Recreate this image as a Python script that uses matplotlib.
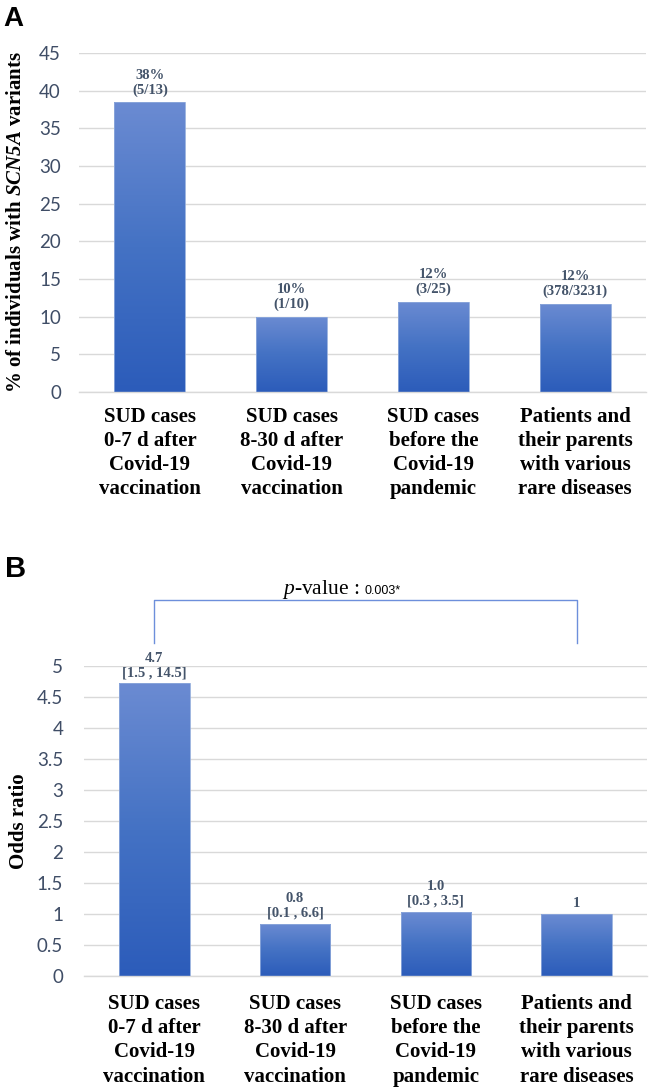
import numpy as np
import matplotlib
matplotlib.use("Agg")
import matplotlib.pyplot as plt
from matplotlib.colors import LinearSegmentedColormap
from matplotlib.ticker import FuncFormatter

plt.rcParams["mathtext.fontset"] = "custom"
plt.rcParams["mathtext.rm"] = "Liberation Serif"
plt.rcParams["mathtext.it"] = "Liberation Serif:italic"
plt.rcParams["mathtext.bf"] = "Liberation Serif:bold"
plt.rcParams["mathtext.bfit"] = "Liberation Serif:italic:bold"

# data
categories = [
    "SUD cases\n0-7 d after\nCovid-19\nvaccination",
    "SUD cases\n8-30 d after\nCovid-19\nvaccination",
    "SUD cases\nbefore the\nCovid-19\npandemic",
    "Patients and\ntheir parents\nwith various\nrare diseases",
]
pct_values = [38.46, 10.0, 12.0, 11.7]
pct_labels = ["38%\n(5/13)", "10%\n(1/10)", "12%\n(3/25)", "12%\n(378/3231)"]
or_values = [4.72, 0.84, 1.03, 1.0]
or_labels = ["4.7\n[1.5 , 14.5]", "0.8\n[0.1 , 6.6]", "1.0\n[0.3 , 3.5]", "1"]
p_value = "0.003*"

SERIF = "Liberation Serif"
TICK_FONT = "Lato"
TXT = "#44546A"
TICK_COLOR = "#3F4D66"
GRID = "#D9D9D9"
grad_cmap = LinearSegmentedColormap.from_list("bar", ["#2C5CBA", "#4472C4", "#6B8BD2"])


def draw_bars(ax, values):
    x = np.arange(len(values))
    bars = ax.bar(x, values, width=0.5, facecolor="none", edgecolor="#8EA9DB",
                  linewidth=0.6, zorder=3)
    grad = np.linspace(0, 1, 256).reshape(-1, 1)
    for b in bars:
        x0, w, h = b.get_x(), b.get_width(), b.get_height()
        im = ax.imshow(grad, extent=[x0, x0 + w, 0, h], origin="lower",
                       cmap=grad_cmap, aspect="auto", zorder=2)
        im.set_clip_path(b)
    return bars


def style_axis(ax, ymax, step, pad):
    ax.set_xlim(-0.5, 3.5)
    ax.set_ylim(0, ymax)
    ax.set_yticks(np.arange(0, ymax + step / 2, step))
    ax.yaxis.set_major_formatter(FuncFormatter(lambda v, _: f"{v:g}"))
    ax.grid(axis="y", color=GRID, linewidth=1.0, zorder=0)
    ax.set_axisbelow(True)
    for s in ["top", "right", "left"]:
        ax.spines[s].set_visible(False)
    ax.spines["bottom"].set_color(GRID)
    ax.spines["bottom"].set_linewidth(1.0)
    ax.tick_params(axis="y", length=0, pad=pad, labelsize=13.5,
                   labelcolor=TICK_COLOR)
    for t in ax.get_yticklabels():
        t.set_fontfamily(TICK_FONT)


fig = plt.figure(figsize=(6.66, 10.88), dpi=100)

# ---- panel A
axA = fig.add_axes([79 / 666, 1 - 392 / 1088, 567 / 666, 339 / 1088])
barsA = draw_bars(axA, pct_values)
style_axis(axA, 45, 5, 13)
axA.set_xticks(range(4))
axA.set_xticklabels(categories, fontfamily=SERIF, fontweight="bold",
                    fontsize=15, linespacing=1.28)
axA.tick_params(axis="x", length=0, pad=10.5)
for b, lab in zip(barsA, pct_labels):
    axA.annotate(lab, (b.get_x() + b.get_width() / 2, b.get_height()),
                 xytext=(0, 4), textcoords="offset points", ha="center",
                 va="bottom", fontfamily=SERIF, fontweight="bold", fontsize=10.5,
                 color=TXT, linespacing=1.15)
axA.set_ylabel(r"% of individuals with $\mathbfit{SCN5A}$ variants",
               fontfamily=SERIF, fontweight="bold", fontsize=15)
axA.yaxis.set_label_coords(-0.094, 0.5)
fig.text(3 / 666, 1 - 19 / 1088, "A", fontfamily="Liberation Sans",
         fontweight="bold", fontsize=20, va="center", ha="left")

# ---- panel B
axB = fig.add_axes([84 / 666, 1 - 976 / 1088, 563 / 666, 310 / 1088])
barsB = draw_bars(axB, or_values)
style_axis(axB, 5, 0.5, 15)
axB.set_xticks(range(4))
axB.set_xticklabels(categories, fontfamily=SERIF, fontweight="bold",
                    fontsize=15, linespacing=1.28)
axB.tick_params(axis="x", length=0, pad=13)
for b, lab in zip(barsB, or_labels):
    axB.annotate(lab, (b.get_x() + b.get_width() / 2, b.get_height()),
                 xytext=(0, 3), textcoords="offset points", ha="center",
                 va="bottom", fontfamily=SERIF, fontweight="bold", fontsize=10.5,
                 color=TXT, linespacing=1.15)
axB.set_ylabel("Odds ratio", fontfamily=SERIF, fontweight="bold", fontsize=15)
axB.yaxis.set_label_coords(-0.098, 0.5)
fig.text(5 / 666, 1 - 569 / 1088, "B", fontfamily="Liberation Sans",
         fontweight="bold", fontsize=21, va="center", ha="left")

# significance bracket between first and last bar
axB.plot([0, 0, 3, 3], [5.37, 6.06, 6.06, 5.37], color="#6D8FDB",
         linewidth=1.0, clip_on=False, zorder=4)
axB.text(1.47, 6.16, r"$\mathit{p}$-value : ", fontfamily=SERIF, fontsize=15.5,
         ha="right", va="baseline")
axB.text(1.49, 6.16, p_value, fontfamily="Liberation Sans", fontsize=9,
         ha="left", va="baseline")

fig.savefig("out.png", dpi=100)
